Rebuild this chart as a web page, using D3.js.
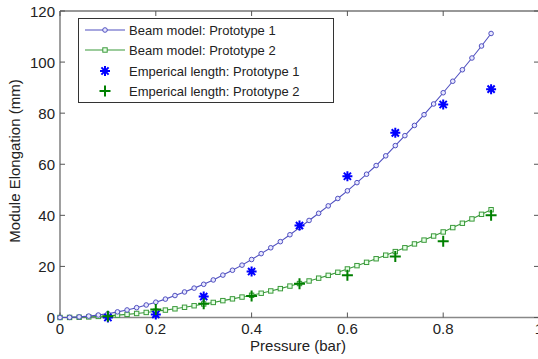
<!DOCTYPE html>
<html><head><meta charset="utf-8">
<script src="https://cdn.jsdelivr.net/npm/d3@7"></script>
<style>html,body{margin:0;padding:0;background:#fff;overflow:hidden}</style>
</head><body>
<svg id="chart" width="538" height="359"></svg>
<script>
const modelPressure = [0,0.02,0.04,0.06,0.08,0.10,0.12,0.14,0.16,0.18,0.20,0.22,0.24,0.26,0.28,0.30,0.32,0.34,0.36,0.38,0.40,0.42,0.44,0.46,0.48,0.50,0.52,0.54,0.56,0.58,0.60,0.62,0.64,0.66,0.68,0.70,0.72,0.74,0.76,0.78,0.80,0.82,0.84,0.86,0.88,0.90];
const beamProto1 = [0,0.06,0.24,0.55,0.97,1.5,2.2,2.95,3.85,4.9,6.0,7.2,8.6,10.0,11.5,13.0,14.7,16.6,18.5,20.5,22.7,25.0,27.3,29.7,32.4,35.2,38.0,40.8,43.7,46.6,49.6,52.8,56.1,59.5,63.3,67.3,71.2,75.2,79.4,83.6,88.0,92.5,97.0,101.6,106.3,111.2];
const beamProto2 = [0,0.03,0.1,0.23,0.42,0.65,0.92,1.23,1.58,1.98,2.45,2.9,3.4,4.0,4.6,5.3,5.9,6.6,7.3,8.0,8.7,9.5,10.4,11.3,12.3,13.3,14.3,15.4,16.5,17.7,19.0,20.3,21.6,23.0,24.4,25.8,27.3,28.8,30.3,31.9,33.5,35.2,36.9,38.6,40.4,42.2];
const empPressure = [0.1,0.2,0.3,0.4,0.5,0.6,0.7,0.8,0.9];
const empProto1 = [0,1.2,8.2,18,36,55.3,72.3,83.4,89.4];
const empProto2 = [0.5,3.1,5.4,8.4,13.2,16.5,23.9,29.9,40];
const xTicks = [0,0.2,0.4,0.6,0.8,1];
const yTicks = [0,20,40,60,80,100,120];
const seriesNames = ["Beam model: Prototype 1","Beam model: Prototype 2","Emperical length: Prototype 1","Emperical length: Prototype 2"];

const svg = d3.select("#chart");
const L=60, R=539, T=11, B=317.5;
const x = d3.scaleLinear().domain([0,1]).range([L,R]);
const y = d3.scaleLinear().domain([0,120]).range([B,T]);
const font = "'Liberation Sans', Arial, sans-serif";
const blue = "#5050c0", green = "#3a9a3a";

// frame
svg.append("line").attr("x1",L).attr("x2",R).attr("y1",T).attr("y2",T).attr("stroke","#333").attr("stroke-width",1.2);
svg.append("line").attr("x1",L).attr("x2",L).attr("y1",T).attr("y2",B).attr("stroke","#888").attr("stroke-width",1.6);
svg.append("line").attr("x1",L).attr("x2",R).attr("y1",B).attr("y2",B).attr("stroke","#888").attr("stroke-width",1.6);

// ticks
xTicks.forEach(t=>{
  svg.append("line").attr("x1",x(t)).attr("x2",x(t)).attr("y1",B).attr("y2",B-5).attr("stroke","#555");
  svg.append("line").attr("x1",x(t)).attr("x2",x(t)).attr("y1",T).attr("y2",T+5).attr("stroke","#555");
  svg.append("text").attr("x",x(t)).attr("y",334).attr("text-anchor","middle")
    .attr("font-family",font).attr("font-size",15).attr("fill","#222").text(t);
});
yTicks.forEach(t=>{
  svg.append("line").attr("x1",L).attr("x2",L+5).attr("y1",y(t)).attr("y2",y(t)).attr("stroke","#555");
  svg.append("line").attr("x1",R-5).attr("x2",R).attr("y1",y(t)).attr("y2",y(t)).attr("stroke","#555");
  svg.append("text").attr("x",55).attr("y",y(t)+5.5).attr("text-anchor","end")
    .attr("font-family",font).attr("font-size",15).attr("fill","#222").text(t);
});

// axis labels
svg.append("text").attr("x",298).attr("y",351).attr("text-anchor","middle")
  .attr("font-family",font).attr("font-size",15).attr("fill","#222").text("Pressure (bar)");
svg.append("text").attr("transform","translate(20,161) rotate(-90)").attr("text-anchor","middle")
  .attr("font-family",font).attr("font-size",15).attr("fill","#222").text("Module Elongation (mm)");

const line = d3.line().x(d=>x(d[0])).y(d=>y(d[1]));
const m1 = modelPressure.map((p,i)=>[p,beamProto1[i]]);
const m2 = modelPressure.map((p,i)=>[p,beamProto2[i]]);

function star(g, cx, cy, color){
  const r=5, d=r*0.72;
  const p = `M${cx-r},${cy}L${cx+r},${cy}M${cx},${cy-r}L${cx},${cy+r}M${cx-d},${cy-d}L${cx+d},${cy+d}M${cx-d},${cy+d}L${cx+d},${cy-d}`;
  g.append("path").attr("d",p).attr("stroke",color).attr("stroke-width",2).attr("fill","none");
}
function plus(g, cx, cy, color){
  const r=5.5;
  g.append("path").attr("d",`M${cx-r},${cy}L${cx+r},${cy}M${cx},${cy-r}L${cx},${cy+r}`)
    .attr("stroke",color).attr("stroke-width",2).attr("fill","none");
}
function circ(g,cx,cy){ g.append("circle").attr("cx",cx).attr("cy",cy).attr("r",2.3).attr("fill","#e8e8ff").attr("stroke",blue).attr("stroke-width",1); }
function sq(g,cx,cy){ g.append("rect").attr("x",cx-2.2).attr("y",cy-2.2).attr("width",4.4).attr("height",4.4).attr("fill","#e8ffe8").attr("stroke",green).attr("stroke-width",1); }

const plot = svg.append("g");
plot.append("path").datum(m2).attr("d",line).attr("fill","none").attr("stroke",green).attr("stroke-width",1.1);
m2.forEach(d=>sq(plot,x(d[0]),y(d[1])));
plot.append("path").datum(m1).attr("d",line).attr("fill","none").attr("stroke",blue).attr("stroke-width",1.1);
m1.forEach(d=>circ(plot,x(d[0]),y(d[1])));
empPressure.forEach((p,i)=>star(plot,x(p),y(empProto1[i]),"#0000ff"));
empPressure.forEach((p,i)=>plus(plot,x(p),y(empProto2[i]),"#008000"));

// legend
const lg = svg.append("g");
lg.append("rect").attr("x",78.5).attr("y",18.5).attr("width",255).attr("height",84)
  .attr("fill","#fff").attr("stroke","#333").attr("stroke-width",1);
const ly = [30,50,71,91];
seriesNames.forEach((n,i)=>{
  lg.append("text").attr("x",129).attr("y",ly[i]+4.5).attr("font-family",font).attr("font-size",13).attr("fill","#222").text(n);
});
lg.append("line").attr("x1",85).attr("x2",125).attr("y1",ly[0]).attr("y2",ly[0]).attr("stroke",blue).attr("stroke-width",1.1);
circ(lg,105,ly[0]);
lg.append("line").attr("x1",85).attr("x2",125).attr("y1",ly[1]).attr("y2",ly[1]).attr("stroke",green).attr("stroke-width",1.1);
sq(lg,105,ly[1]);
star(lg,105,ly[2],"#0000ff");
plus(lg,105,ly[3],"#008000");
</script>
</body></html>
